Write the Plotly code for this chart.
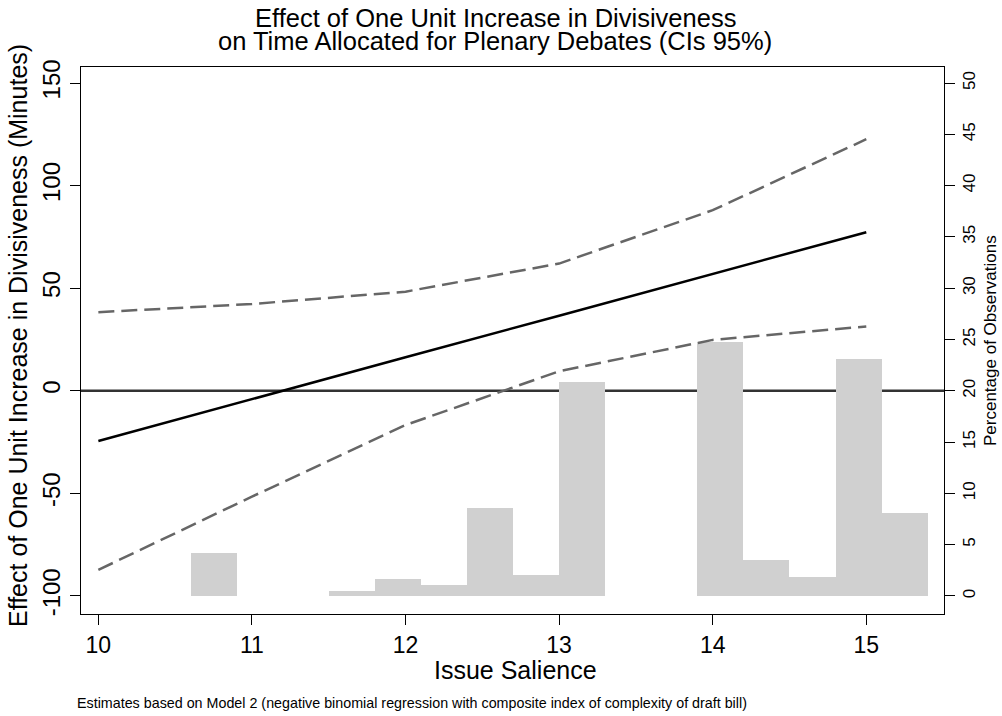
import plotly.graph_objects as go

# Marginal effect of divisiveness across issue salience, with 95% CIs
salience = [10, 11, 12, 13, 14, 15]
effect = [-24.5, -4.0, 16.3, 36.6, 57.0, 77.3]
ci_lower = [-87.3, -51.6, -16.7, 9.5, 24.8, 31.3]
ci_upper = [38.3, 42.3, 48.3, 62.0, 88.0, 122.6]

# Distribution of issue salience (percentage of observations per bin)
bin_centers = [10.75, 11.65, 11.95, 12.25, 12.55, 12.85, 13.15,
               14.05, 14.35, 14.65, 14.95, 15.25]
bin_pct = [4.16, 0.46, 1.66, 1.07, 8.55, 2.05, 20.83,
           24.76, 3.51, 1.85, 23.07, 8.06]
bin_width = 0.3

x_ticks = [10, 11, 12, 13, 14, 15]
left_ticks = [-100, -50, 0, 50, 100, 150]
left_ticktext = ["-100", "-50", "0", "50", "100", "150"]
right_ticks = [0, 5, 10, 15, 20, 25, 30, 35, 40, 45, 50]

W, H = 1002, 716
ML, MR, MT, MB = 81, 58, 67, 102
PW, PH = W - ML - MR, H - MT - MB
FONT = "Liberation Sans, Arial, Helvetica, sans-serif"


def px_x(px):
    return (px - ML) / PW


def px_y(py):
    return (H - MB - py) / PH


fig = go.Figure()

fig.add_trace(go.Bar(
    x=bin_centers, y=bin_pct, width=bin_width,
    marker=dict(color="#d0d0d0", line=dict(width=0)),
    yaxis="y", showlegend=False, hoverinfo="skip",
))

fig.add_trace(go.Scatter(
    x=salience, y=ci_upper, mode="lines", yaxis="y2",
    line=dict(color="#666666", width=2.5, dash="16px,7px"), showlegend=False,
))
fig.add_trace(go.Scatter(
    x=salience, y=ci_lower, mode="lines", yaxis="y2",
    line=dict(color="#666666", width=2.5, dash="16px,7px"), showlegend=False,
))
fig.add_trace(go.Scatter(
    x=salience, y=effect, mode="lines", yaxis="y2",
    line=dict(color="#000000", width=2.5), showlegend=False,
))

# Reference line at zero effect
fig.add_shape(type="line", xref="paper", x0=0, x1=1, yref="y2", y0=0, y1=0,
              line=dict(color="#333333", width=2.5), layer="below")

axis_common = dict(showgrid=False, zeroline=False, showline=True,
                   linecolor="#000000", linewidth=1, ticks="outside",
                   ticklen=10, tickcolor="#000000", tickwidth=1)

fig.update_layout(
    width=W, height=H,
    margin=dict(l=ML, r=MR, t=MT, b=MB, pad=0),
    paper_bgcolor="white", plot_bgcolor="white",
    font=dict(family=FONT, color="#000000"),
    bargap=0,
    xaxis=dict(range=[9.887, 15.506], tickvals=x_ticks,
               tickfont=dict(size=23), mirror=True, **axis_common),
    yaxis=dict(range=[-1.76, 51.56], side="right", tickvals=right_ticks,
               tickangle=-90, tickfont=dict(size=17), **axis_common),
    yaxis2=dict(range=[-108.8, 157.8], side="left", overlaying="y",
                anchor="x", tickvals=left_ticks, ticktext=left_ticktext,
                tickangle=-90, tickfont=dict(size=24), **axis_common),
)

annotations = [
    dict(text="Effect of One Unit Increase in Divisiveness",
         x=px_x(495), y=px_y(18), font=dict(size=25.5)),
    dict(text="on Time Allocated for Plenary Debates (CIs 95%)",
         x=px_x(495), y=px_y(41), font=dict(size=25.5)),
    dict(text="Issue Salience", x=px_x(515), y=px_y(670), font=dict(size=25)),
    dict(text="Effect of One Unit Increase in Divisiveness (Minutes)",
         x=px_x(18), y=px_y(336), textangle=-90, font=dict(size=25)),
    dict(text="Percentage of Observations",
         x=px_x(990), y=px_y(341), textangle=-90, font=dict(size=17)),
]
for a in annotations:
    fig.add_annotation(xref="paper", yref="paper", showarrow=False,
                       xanchor="center", yanchor="middle", **a)

fig.add_annotation(
    text="Estimates based on Model 2 (negative binomial regression with "
         "composite index of complexity of draft bill)",
    xref="paper", yref="paper", x=px_x(75), y=px_y(703),
    xanchor="left", yanchor="middle", showarrow=False,
    font=dict(size=14.3),
)

fig.write_html("out.html")
